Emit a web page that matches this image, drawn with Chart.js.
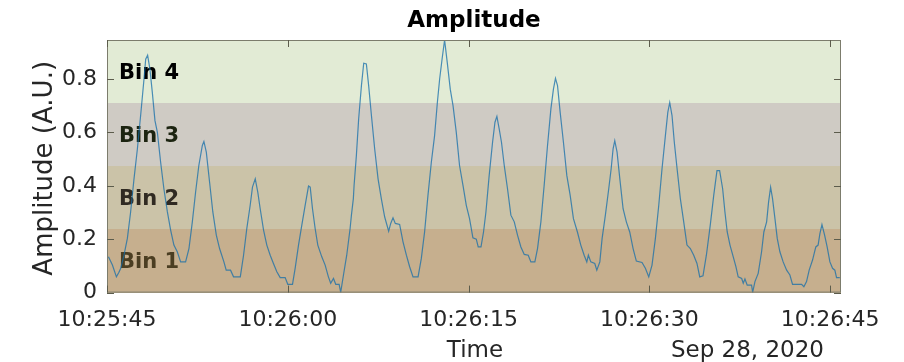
<!DOCTYPE html>
<html>
<head>
<meta charset="utf-8">
<script src="https://cdn.jsdelivr.net/npm/chart.js@4.4.0/dist/chart.umd.min.js"></script>
<style>
html, body { margin: 0; padding: 0; background: #fff; }
</style>
</head>
<body>
<canvas id="myChart" width="904" height="362"></canvas>
<script>
// time axis: seconds after 10:25:45
var dateLabel = "Sep 28, 2020";
var seconds = [
  0.12, 0.45, 0.78, 0.99, 1.14, 1.41, 1.69, 1.96, 2.24, 2.52, 2.79, 3.07, 3.21, 3.37, 3.56, 3.76, 3.98, 4.18, 4.45, 4.72,
  5.01, 5.28, 5.55, 5.83, 6.11, 6.52, 6.80, 7.08, 7.35, 7.62, 7.91, 8.04, 8.24, 8.51, 8.78, 9.07, 9.34, 9.70, 9.89, 10.25,
  10.50, 11.06, 11.33, 11.60, 11.88, 12.07, 12.30, 12.51, 12.71, 12.99, 13.26, 13.54, 13.81, 14.09, 14.37, 14.78, 15.00, 15.39, 15.61, 15.89,
  16.16, 16.44, 16.72, 16.86, 17.05, 17.27, 17.49, 17.82, 18.10, 18.37, 18.56, 18.79, 18.98, 19.26, 19.39, 19.62, 19.89, 20.17, 20.28, 20.44,
  20.50, 20.69, 20.88, 21.11, 21.30, 21.52, 21.71, 21.94, 22.21, 22.49, 22.76, 23.04, 23.37, 23.54, 23.73, 23.92, 24.28, 24.56, 24.84, 25.11,
  25.39, 25.81, 26.08, 26.35, 26.63, 26.91, 27.18, 27.41, 27.60, 27.80, 28.01, 28.23, 28.48, 28.71, 28.98, 29.25, 29.54, 29.81, 30.08, 30.36,
  30.64, 30.80, 31.03, 31.24, 31.44, 31.71, 31.99, 32.19, 32.35, 32.54, 32.73, 32.96, 33.23, 33.51, 33.79, 34.06, 34.34, 34.62, 34.95, 35.17,
  35.50, 35.72, 36.00, 36.27, 36.55, 36.83, 37.04, 37.21, 37.38, 37.60, 37.87, 38.15, 38.43, 38.70, 39.03, 39.31, 39.59, 39.81, 39.94, 40.14,
  40.47, 40.64, 40.89, 41.08, 41.35, 41.63, 41.83, 41.99, 42.13, 42.32, 42.55, 42.82, 43.09, 43.37, 43.65, 43.92, 44.39, 44.67, 44.95, 45.22,
  45.50, 45.78, 46.05, 46.33, 46.53, 46.69, 46.88, 47.07, 47.30, 47.57, 47.85, 48.12, 48.40, 48.68, 48.95, 49.18, 49.45, 49.73, 50.05, 50.34,
  50.61, 50.83, 51.08, 51.27, 51.46, 51.69, 51.96, 52.18, 52.37, 52.66, 52.79, 52.93, 53.12, 53.48, 53.57, 53.76, 54.03, 54.31, 54.50, 54.73,
  54.89, 55.06, 55.22, 55.42, 55.61, 55.83, 56.10, 56.39, 56.66, 56.88, 57.63, 57.82, 58.04, 58.26, 58.54, 58.81, 59.00, 59.15, 59.32, 59.54,
  59.75, 59.98, 60.20, 60.39, 60.53, 60.80
];
var amplitude = [
  0.134, 0.103, 0.059, 0.076, 0.091, 0.140, 0.203, 0.302, 0.426, 0.538, 0.663, 0.800, 0.874, 0.889, 0.837, 0.750, 0.644, 0.600, 0.488, 0.389,
  0.302, 0.234, 0.178, 0.153, 0.115, 0.115, 0.165, 0.265, 0.376, 0.476, 0.551, 0.566, 0.526, 0.414, 0.302, 0.215, 0.165, 0.115, 0.084, 0.084,
  0.059, 0.059, 0.140, 0.240, 0.327, 0.395, 0.426, 0.376, 0.314, 0.234, 0.178, 0.140, 0.109, 0.078, 0.056, 0.056, 0.031, 0.031, 0.091, 0.178,
  0.252, 0.327, 0.399, 0.395, 0.314, 0.240, 0.178, 0.134, 0.103, 0.059, 0.035, 0.053, 0.031, 0.031, 0.001, 0.066, 0.140, 0.240, 0.290, 0.352,
  0.401, 0.513, 0.650, 0.775, 0.859, 0.856, 0.775, 0.663, 0.538, 0.426, 0.352, 0.283, 0.230, 0.259, 0.280, 0.259, 0.255, 0.190, 0.140, 0.097,
  0.059, 0.059, 0.128, 0.227, 0.364, 0.488, 0.588, 0.712, 0.800, 0.874, 0.946, 0.862, 0.762, 0.700, 0.600, 0.476, 0.401, 0.327, 0.277, 0.205,
  0.200, 0.171, 0.171, 0.227, 0.302, 0.439, 0.563, 0.638, 0.660, 0.613, 0.563, 0.476, 0.389, 0.290, 0.265, 0.215, 0.171, 0.143, 0.140, 0.115,
  0.115, 0.165, 0.265, 0.401, 0.551, 0.688, 0.762, 0.802, 0.775, 0.675, 0.563, 0.439, 0.364, 0.277, 0.227, 0.178, 0.140, 0.115, 0.140, 0.115,
  0.109, 0.084, 0.115, 0.203, 0.290, 0.389, 0.464, 0.538, 0.569, 0.526, 0.426, 0.314, 0.265, 0.227, 0.165, 0.118, 0.113, 0.091, 0.059, 0.103,
  0.203, 0.327, 0.464, 0.588, 0.675, 0.712, 0.663, 0.563, 0.464, 0.352, 0.265, 0.178, 0.165, 0.140, 0.109, 0.059, 0.063, 0.140, 0.252, 0.364,
  0.457, 0.457, 0.389, 0.302, 0.227, 0.178, 0.134, 0.097, 0.059, 0.053, 0.035, 0.051, 0.028, 0.028, 0.001, 0.041, 0.072, 0.153, 0.227, 0.265,
  0.339, 0.395, 0.352, 0.277, 0.203, 0.153, 0.115, 0.084, 0.066, 0.031, 0.031, 0.022, 0.041, 0.084, 0.122, 0.171, 0.178, 0.221, 0.255, 0.215,
  0.171, 0.115, 0.091, 0.084, 0.056, 0.056
];
var xTickValues = [0, 15, 30, 45, 60];
var xTickLabels = ["10:25:45", "10:26:00", "10:26:15", "10:26:30", "10:26:45"];
var yTickValues = [0, 0.2, 0.4, 0.6, 0.8];
var binNames = ["Bin 1", "Bin 2", "Bin 3", "Bin 4"];
var binEdges = [0, 0.2365, 0.473, 0.7095, 0.946];
var xMax = 60.9;

var binColors = ["#c6af8e", "#cbc3a8", "#cfcbc4", "#e2ebd5"];
var binTextColors = ["#4b3e22", "#302a22", "#1c2410", "#000000"];
var FONT = '"DejaVu Sans", sans-serif';

var points = [];
for (var i = 0; i < seconds.length; i++) {
  points.push({ x: seconds[i], y: amplitude[i] });
}

var decorPlugin = {
  id: 'decor',
  beforeDatasetsDraw: function (chart) {
    var ctx = chart.ctx, a = chart.chartArea, ys = chart.scales.y;
    ctx.save();
    for (var i = 0; i < binNames.length; i++) {
      var top = Math.round(ys.getPixelForValue(binEdges[i + 1]));
      var bot = Math.round(ys.getPixelForValue(binEdges[i]));
      if (i == binNames.length - 1) top = a.top;
      ctx.fillStyle = binColors[i];
      ctx.fillRect(a.left, top, a.right - a.left, bot - top);
      ctx.fillStyle = binTextColors[i];
      ctx.font = 'bold 21px ' + FONT;
      ctx.textBaseline = 'middle';
      ctx.textAlign = 'left';
      ctx.fillText(binNames[i], a.left + 12, (top + bot) / 2 + 2);
    }
    ctx.restore();
  },
  afterDraw: function (chart) {
    var ctx = chart.ctx, a = chart.chartArea;
    var xs = chart.scales.x, ys = chart.scales.y;
    ctx.save();
    // box
    ctx.strokeStyle = '#7c7c6c';
    ctx.lineWidth = 1;
    ctx.strokeRect(a.left + 0.5, a.top + 0.5, a.right - a.left - 1, a.bottom - a.top - 1);
    // inward ticks
    ctx.strokeStyle = '#5c5c4c';
    ctx.beginPath();
    xTickValues.forEach(function (v) {
      var px = Math.round(xs.getPixelForValue(v)) + 0.5;
      ctx.moveTo(px, a.bottom); ctx.lineTo(px, a.bottom - 7);
      ctx.moveTo(px, a.top); ctx.lineTo(px, a.top + 7);
    });
    yTickValues.forEach(function (v) {
      var py = Math.round(ys.getPixelForValue(v)) + 0.5;
      ctx.moveTo(a.left, py); ctx.lineTo(a.left + 7, py);
      ctx.moveTo(a.right, py); ctx.lineTo(a.right - 7, py);
    });
    ctx.stroke();
    // title
    ctx.fillStyle = '#000';
    ctx.textAlign = 'center';
    ctx.textBaseline = 'alphabetic';
    ctx.font = 'bold 23px ' + FONT;
    ctx.fillText('Amplitude', (a.left + a.right) / 2, 27);
    // axis labels
    ctx.fillStyle = '#262626';
    ctx.font = '23px ' + FONT;
    ctx.fillText('Time', (a.left + a.right) / 2 + 1, 357);
    ctx.textAlign = 'right';
    ctx.fillText(dateLabel, a.right - 17, 357);
    ctx.font = '26px ' + FONT;
    ctx.translate(52, (a.top + a.bottom) / 2 + 2);
    ctx.rotate(-Math.PI / 2);
    ctx.textAlign = 'center';
    ctx.fillText('Amplitude (A.U.)', 0, 0);
    ctx.restore();
  }
};

var chart = new Chart(document.getElementById('myChart').getContext('2d'), {
  type: 'line',
  data: {
    datasets: [{
      data: points,
      borderColor: 'rgba(20,110,170,0.75)',
      borderWidth: 1.2,
      pointRadius: 0,
      tension: 0,
      fill: false
    }]
  },
  options: {
    responsive: false,
    animation: false,
    layout: { padding: { left: 0, top: 40, right: 63, bottom: 0 } },
    plugins: { legend: { display: false }, tooltip: { enabled: false } },
    scales: {
      x: {
        type: 'linear',
        min: 0,
        max: xMax,
        grid: { display: false, drawTicks: false },
        border: { display: false },
        afterBuildTicks: function (s) { s.ticks = xTickValues.map(function (v) { return { value: v }; }); },
        afterFit: function (s) { s.height = 69.4; },
        ticks: {
          autoSkip: false,
          maxRotation: 0,
          padding: 14,
          color: '#262626',
          font: { family: FONT, size: 22 },
          callback: function (v) { return xTickLabels[xTickValues.indexOf(v)]; }
        }
      },
      y: {
        min: 0,
        max: binEdges[binEdges.length - 1],
        grid: { display: false, drawTicks: false },
        border: { display: false },
        afterBuildTicks: function (s) { s.ticks = yTickValues.map(function (v) { return { value: v }; }); },
        afterFit: function (s) { s.width = 107; },
        ticks: {
          padding: 10,
          color: '#262626',
          font: { family: FONT, size: 22 },
          callback: function (v) { return String(v); }
        }
      }
    }
  },
  plugins: [decorPlugin]
});
</script>
</body>
</html>
